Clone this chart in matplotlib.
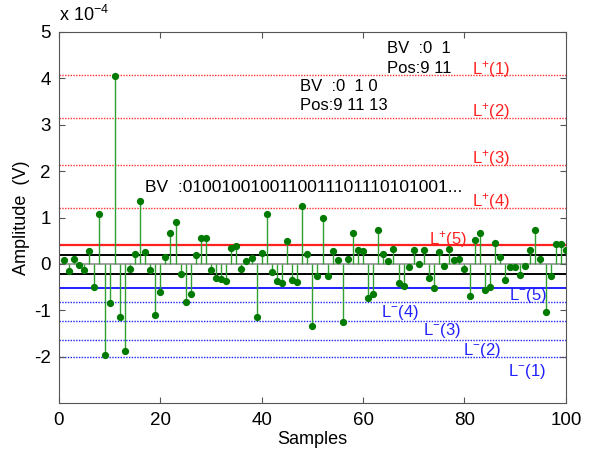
import matplotlib
matplotlib.use("Agg")
import matplotlib.pyplot as plt
import numpy as np

plt.rcParams['font.family'] = ['Liberation Sans', 'DejaVu Sans']
plt.rcParams['mathtext.fontset'] = 'custom'
plt.rcParams['mathtext.rm'] = 'Liberation Sans'
plt.rcParams['mathtext.it'] = 'Liberation Sans'
plt.rcParams['axes.unicode_minus'] = False

# Data (amplitude in units of 1e-4 V)
samples = list(range(1, 101))
amplitude = [
    0.09, -0.15, 0.11, -0.02, -0.13, 0.27, -0.50, 1.07, -1.96, -0.84,
    4.05, -1.14, -1.88, -0.11, 0.22, 1.36, 0.26, -0.14, -1.11, -0.60,
    0.16, 0.66, 0.91, -0.22, -0.83, -0.65, 0.19, 0.55, 0.56, -0.14,
    -0.30, -0.33, -0.37, 0.35, 0.38, -0.10, 0.06, 0.13, -1.14, 0.24,
    1.08, -0.18, -0.37, -0.42, 0.49, -0.34, -0.39, 1.24, 0.21, -1.34,
    -0.26, 0.99, -0.27, 0.27, 0.09, -1.25, 0.11, 0.67, 0.29, 0.27,
    -0.74, -0.65, 0.73, 0.21, 0.06, 0.32, -0.41, -0.47, -0.07, 0.29,
    -0.01, 0.30, -0.30, -0.51, 0.25, -0.05, 0.33, 0.09, 0.11, -0.11,
    -0.70, 0.52, 0.66, -0.57, -0.50, 0.46, 0.14, -0.34, -0.07, -0.07,
    -0.24, -0.05, 0.30, 0.73, 0.10, -1.03, -0.25, 0.42, 0.42, 0.30,
]

upper_levels = [4.07, 3.15, 2.13, 1.21]
upper_main = 0.40
lower_levels = [-0.83, -1.23, -1.64, -2.00]
lower_main = -0.525
band = [0.20, -0.21]

upper_labels = ['L$^{+}$(1)', 'L$^{+}$(2)', 'L$^{+}$(3)', 'L$^{+}$(4)', 'L$^{+}$(5)']
lower_labels = ['L$^{-}$(1)', 'L$^{-}$(2)', 'L$^{-}$(3)', 'L$^{-}$(4)', 'L$^{-}$(5)']

fig = plt.figure(figsize=(5.95, 4.49), dpi=100)
ax = fig.add_axes([0.099, 0.102, 0.852, 0.827])

# Horizontal level lines
for lv in upper_levels:
    ax.axhline(lv, color='#ff3030', linestyle=(0, (1, 1)), linewidth=1.0, zorder=1)
for lv in lower_levels:
    ax.axhline(lv, color='#2020ff', linestyle=(0, (1, 1)), linewidth=1.0, zorder=1)
ax.axhline(upper_main, color='#ff2020', linewidth=1.6, zorder=1)
ax.axhline(lower_main, color='#2020ff', linewidth=1.4, zorder=1)
for b in band:
    ax.axhline(b, color='black', linewidth=1.4, zorder=1)
ax.axhline(0, color='#909090', linewidth=1.2, zorder=1)

ml, sl, bl = ax.stem(samples, amplitude, linefmt='-', markerfmt='o', basefmt=' ')
plt.setp(sl, color='#30a030', linewidth=1.0, zorder=2)
plt.setp(ml, color='#007a00', markersize=4.2, zorder=3)

ax.set_xlim(0, 100)
ax.set_ylim(-3, 5)
ax.set_xticks([0, 20, 40, 60, 80, 100])
ax.set_yticks([-2, -1, 0, 1, 2, 3, 4, 5])
ax.tick_params(direction='in', top=True, right=True, labelsize=13.5, length=4,
               color='#555555', pad=6)
for sp in ax.spines.values():
    sp.set_color('#555555')

ax.set_xlabel('Samples', fontsize=13, labelpad=2)
ax.set_ylabel('Amplitude  (V)', fontsize=13, labelpad=3)
fig.text(0.099, 0.945, r'x 10$^{-4}$', fontsize=13, ha='left', va='bottom')

# Level labels
up_pos = [(81.5, 4.20), (81.5, 3.28), (81.5, 2.27), (81.5, 1.34), (73, 0.52)]
lo_pos = [(88.5, -2.32), (79.8, -1.86), (71.8, -1.43), (63.5, -1.04), (88.8, -0.68)]
for (x, y), t in zip(up_pos, upper_labels):
    ax.text(x, y, t, color='#ff2020', fontsize=12, ha='left', va='center')
for (x, y), t in zip(lo_pos, lower_labels):
    ax.text(x, y, t, color='#2020ff', fontsize=12, ha='left', va='center')

# Annotations
ax.text(64.7, 4.64, 'BV  :0  1', fontsize=12, ha='left', va='center')
ax.text(64.7, 4.21, 'Pos:9 11', fontsize=12, ha='left', va='center')
ax.text(47.5, 3.82, 'BV  :0  1 0', fontsize=12, ha='left', va='center')
ax.text(47.5, 3.41, 'Pos:9 11 13', fontsize=12, ha='left', va='center')
ax.text(16.9, 1.64, 'BV  :0100100100110011101110101001...', fontsize=12.5,
        ha='left', va='center')

fig.savefig('out.png', dpi=100)
